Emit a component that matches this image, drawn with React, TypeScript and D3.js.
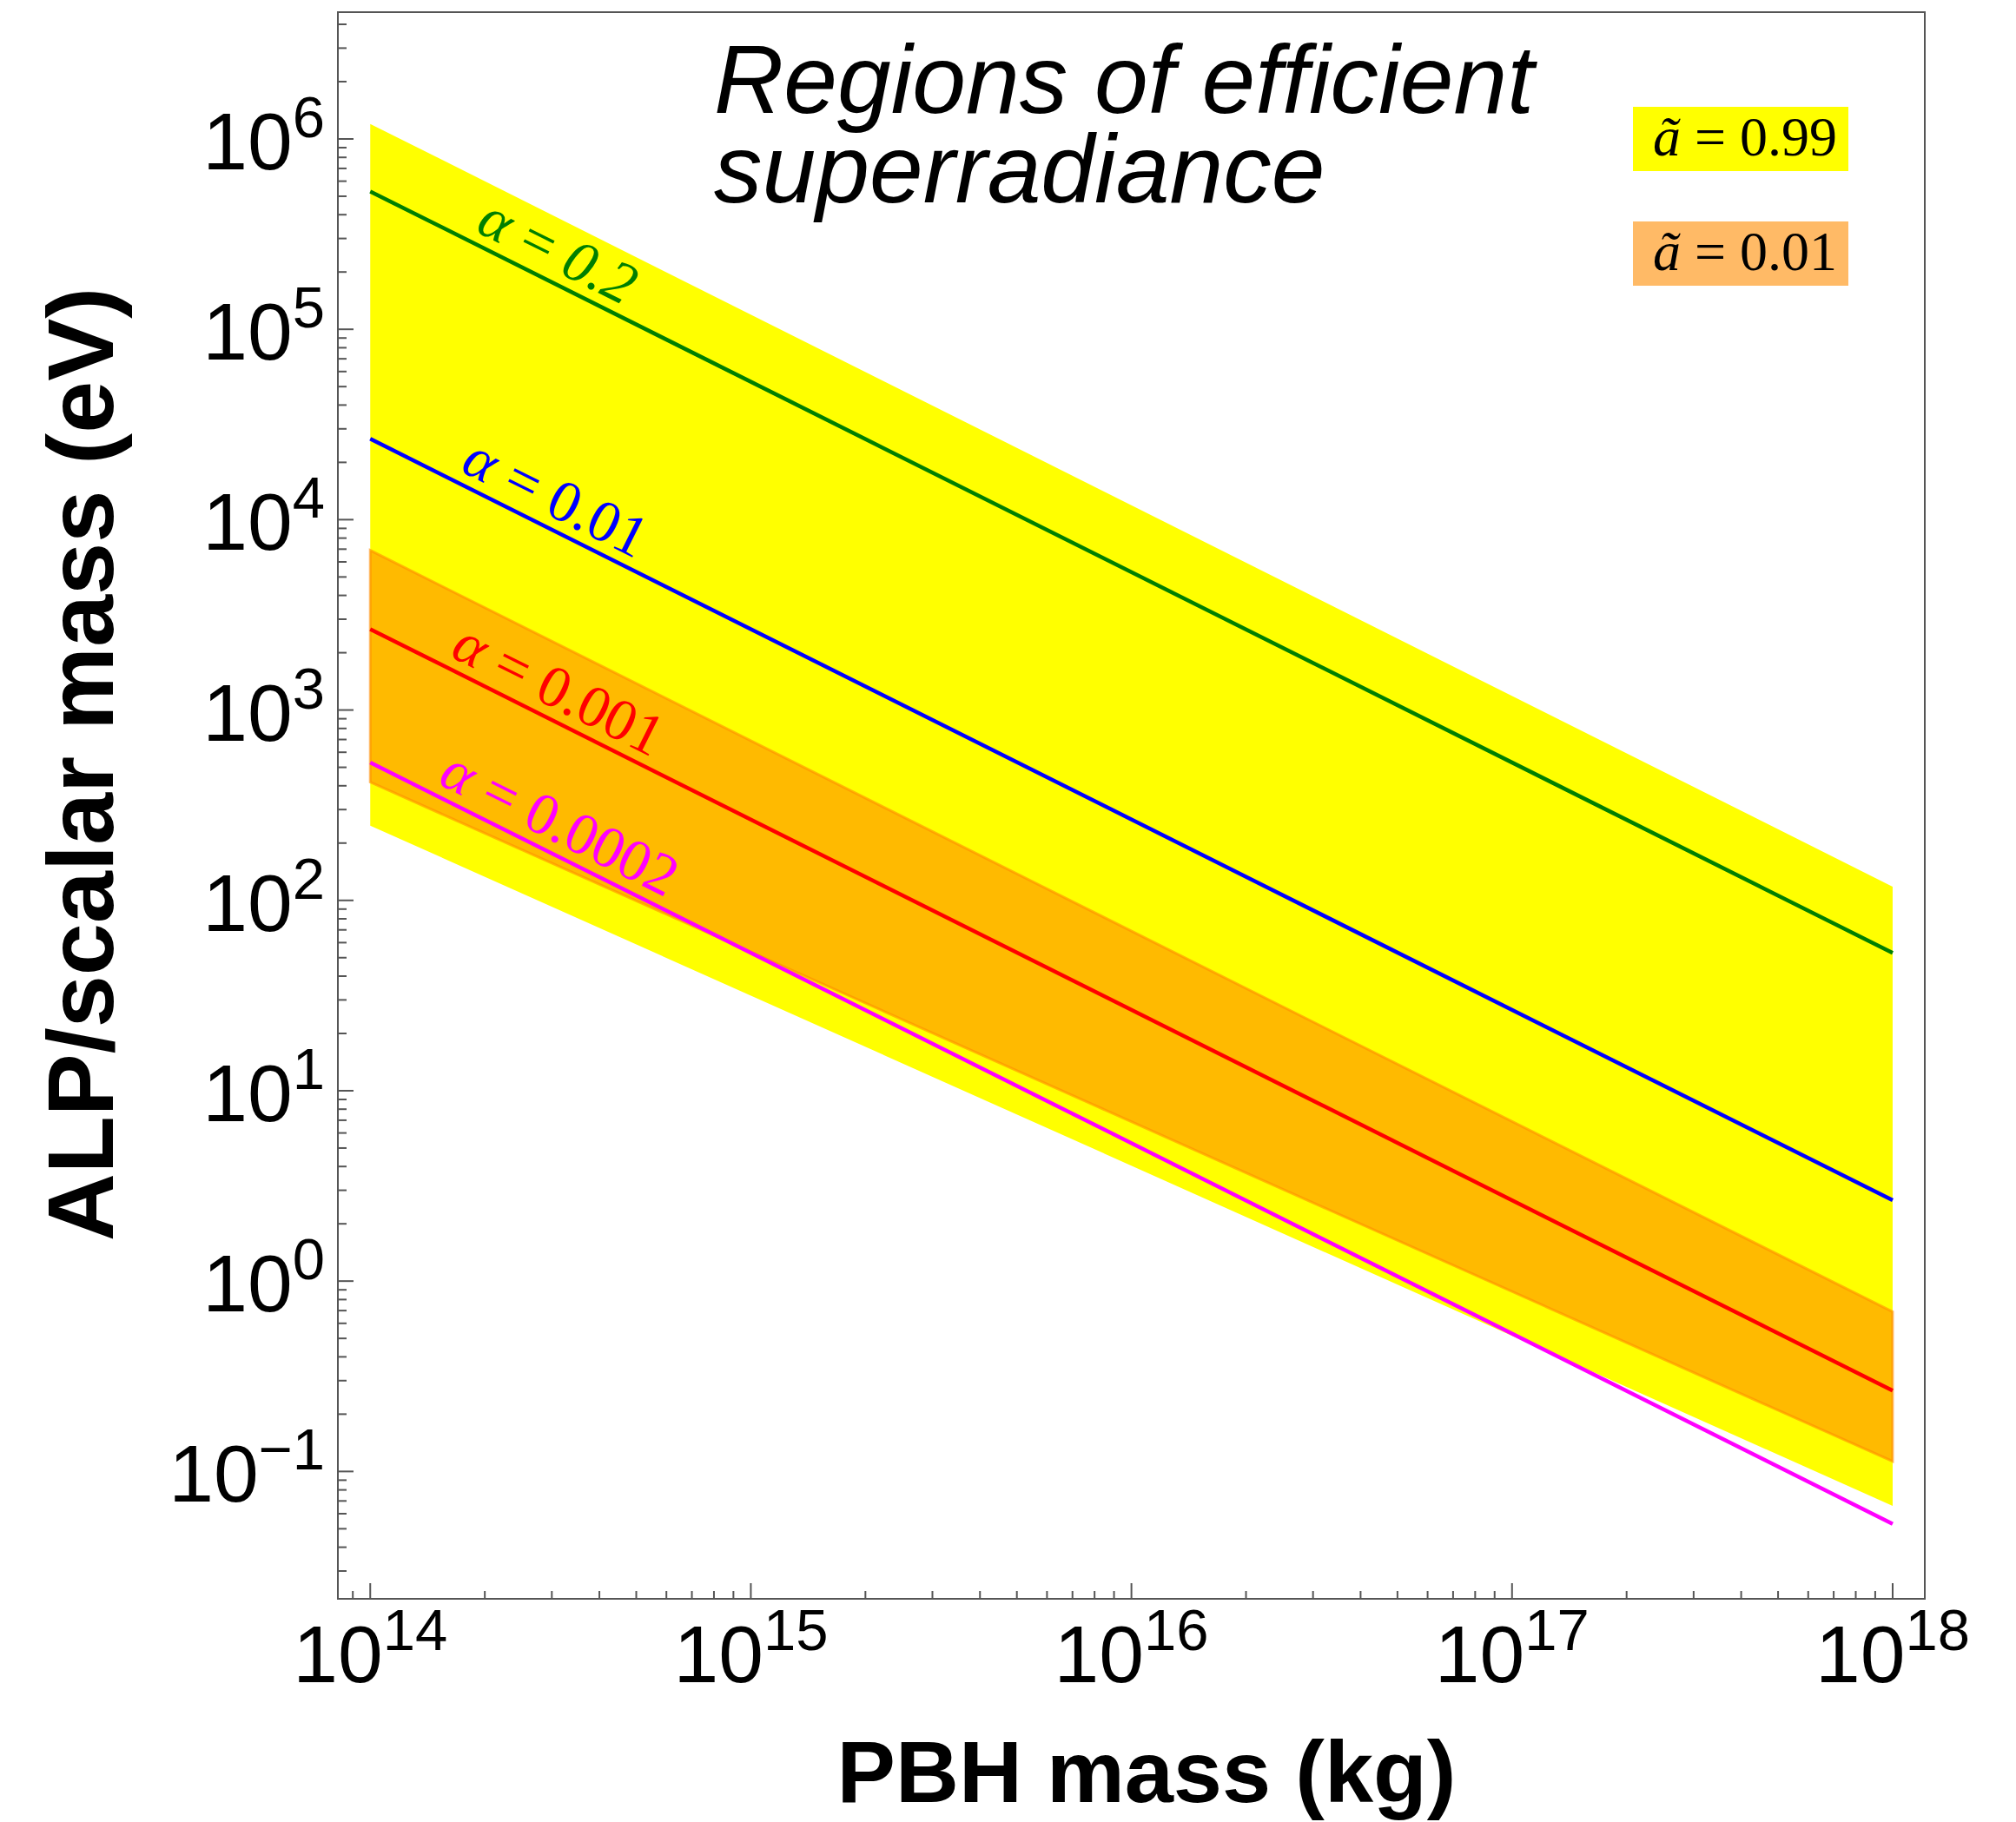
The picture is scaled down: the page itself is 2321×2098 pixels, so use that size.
import React from "react";
import * as d3 from "d3";

// PBH mass (kg) at the two ends of every curve / band
const massEnds = [1e14, 1e18];

// alpha = const lines (ALP mass in eV at 1e14 kg and 1e18 kg)
const alphaNames = ["0.2", "0.01", "0.001", "0.0002"];
const alphaStart = [5.3e5, 2.66e4, 2.66e3, 5.3e2];
const alphaEnd = [53, 2.66, 0.266, 0.053];
const alphaColors = ["#007f00", "#0000ff", "#ff0000", "#ff00ff"];
const alphaLabelMass = [1.82e14, 1.66e14, 1.56e14, 1.45e14];

// superradiance regions, spin 0.99 and spin 0.01
const spin99Upper = [1.2e6, 118];
const spin99Lower = [247, 0.066];
const spin01Upper = [6.9e3, 0.69];
const spin01Lower = [418, 0.113];

const legendLabels = ["0.99", "0.01"];

const xMajor = [14, 15, 16, 17, 18];
const yMajor = [-1, 0, 1, 2, 3, 4, 5, 6];

const W = 2321;
const H = 2098;
const left = 389;
const right = 2216;
const top = 14;
const bottom = 1841;

const App = () => {
  const x = d3
    .scaleLog()
    .domain([10 ** 13.915, 10 ** 18.0845])
    .range([left, right]);
  const y = d3
    .scaleLog()
    .domain([10 ** -1.669, 10 ** 6.666])
    .range([bottom, top]);

  const line = d3
    .line<[number, number]>()
    .x((d) => x(d[0]))
    .y((d) => y(d[1]));

  const band = (upper: number[], lower: number[]) => {
    const pts: [number, number][] = [
      [massEnds[0], upper[0]],
      [massEnds[1], upper[1]],
      [massEnds[1], lower[1]],
      [massEnds[0], lower[0]],
    ];
    return line(pts) + "Z";
  };

  // minor ticks
  const xMinor: number[] = [];
  for (let e = 13; e <= 18; e++)
    for (let k = 2; k <= 9; k++) {
      const v = k * 10 ** e;
      if (v > x.domain()[0] && v < x.domain()[1]) xMinor.push(v);
    }
  const yMinor: number[] = [];
  for (let e = -2; e <= 6; e++)
    for (let k = 2; k <= 9; k++) {
      const v = k * 10 ** e;
      if (v > y.domain()[0] && v < y.domain()[1]) yMinor.push(v);
    }

  const sup = (e: number) => (e < 0 ? "\u2212" + Math.abs(e) : String(e));

  return (
    <svg width={W} height={H} style={{ display: "block", background: "white" }}>
      <style>{`body{margin:0}`}</style>

      {/* regions */}
      <path d={band(spin99Upper, spin99Lower)} fill="#ffff00" />
      <path
        d={band(spin01Upper, spin01Lower)}
        fill="rgb(255,140,0)"
        fillOpacity={0.6}
        stroke="rgb(255,140,0)"
        strokeOpacity={0.6}
        strokeWidth={3}
      />

      {/* alpha lines */}
      {alphaNames.map((n, i) => (
        <path
          key={n}
          d={line([
            [massEnds[0], alphaStart[i]],
            [massEnds[1], alphaEnd[i]],
          ]) as string}
          fill="none"
          stroke={alphaColors[i]}
          strokeWidth={4.5}
        />
      ))}

      {/* alpha labels */}
      {alphaNames.map((n, i) => {
        const ang =
          (Math.atan2(
            y(alphaEnd[i]) - y(alphaStart[i]),
            x(massEnds[1]) - x(massEnds[0])
          ) *
            180) /
          Math.PI;
        const t =
          (Math.log10(alphaLabelMass[i]) - 14) / (Math.log10(massEnds[1]) - 14);
        const v =
          10 **
          (Math.log10(alphaStart[i]) +
            t * (Math.log10(alphaEnd[i]) - Math.log10(alphaStart[i])));
        return (
          <text
            key={n}
            transform={`translate(${x(alphaLabelMass[i])},${y(v)}) rotate(${ang}) translate(0,-13)`}
            fontFamily="'Liberation Serif', 'Times New Roman', serif"
            fontSize={68}
            fill={alphaColors[i]}
          >
            <tspan fontStyle="italic">α</tspan>
            <tspan> = </tspan>
            <tspan fontStyle={i === 0 ? "italic" : "normal"}>{n}</tspan>
          </text>
        );
      })}

      {/* frame */}
      <rect
        x={left}
        y={top}
        width={right - left}
        height={bottom - top}
        fill="none"
        stroke="#555"
        strokeWidth={2}
      />

      {/* x ticks */}
      {xMajor.map((e) => (
        <line
          key={"xM" + e}
          x1={x(10 ** e)}
          x2={x(10 ** e)}
          y1={bottom}
          y2={bottom - 18}
          stroke="#555"
          strokeWidth={2}
        />
      ))}
      {xMinor.map((v) => (
        <line
          key={"xm" + v}
          x1={x(v)}
          x2={x(v)}
          y1={bottom}
          y2={bottom - 9}
          stroke="#555"
          strokeWidth={2}
        />
      ))}
      {xMajor.map((e) => (
        <text
          key={"xl" + e}
          x={x(10 ** e)}
          y={1937}
          textAnchor="middle"
          fontFamily="'Liberation Sans', Arial, sans-serif"
          fontSize={93}
        >
          10
          <tspan dy={-37} fontSize={67}>
            {sup(e)}
          </tspan>
        </text>
      ))}

      {/* y ticks */}
      {yMajor.map((e) => (
        <line
          key={"yM" + e}
          x1={left}
          x2={left + 18}
          y1={y(10 ** e)}
          y2={y(10 ** e)}
          stroke="#555"
          strokeWidth={2}
        />
      ))}
      {yMinor.map((v) => (
        <line
          key={"ym" + v}
          x1={left}
          x2={left + 10}
          y1={y(v)}
          y2={y(v)}
          stroke="#555"
          strokeWidth={2}
        />
      ))}
      {yMajor.map((e) => (
        <text
          key={"yl" + e}
          x={374}
          y={y(10 ** e) + 35}
          textAnchor="end"
          fontFamily="'Liberation Sans', Arial, sans-serif"
          fontSize={93}
        >
          10
          <tspan dy={-37} fontSize={67}>
            {sup(e)}
          </tspan>
        </text>
      ))}

      {/* axis titles */}
      <text
        x={1320}
        y={2075}
        textAnchor="middle"
        fontFamily="'Liberation Sans', Arial, sans-serif"
        fontWeight="bold"
        fontSize={101}
      >
        PBH mass (kg)
      </text>
      <text
        transform="translate(130,880) rotate(-90)"
        textAnchor="middle"
        fontFamily="'Liberation Sans', Arial, sans-serif"
        fontWeight="bold"
        fontSize={108}
      >
        ALP/scalar mass (eV)
      </text>

      {/* title */}
      <text
        fontFamily="'Liberation Sans', Arial, sans-serif"
        fontStyle="italic"
        fontSize={111}
      >
        <tspan x={822} y={130}>
          Regions of efficient
        </tspan>
        <tspan x={822} y={233}>
          superradiance
        </tspan>
      </text>

      {/* legend */}
      {legendLabels.map((l, i) => (
        <g key={l} transform={`translate(1880,${123 + i * 132})`}>
          <rect
            width={248}
            height={74}
            fill={i === 0 ? "#ffff00" : "rgb(255,140,0)"}
            fillOpacity={i === 0 ? 1 : 0.6}
          />
          <text
            x={23}
            y={56}
            fontFamily="'Liberation Serif', 'Times New Roman', serif"
            fontSize={64}
          >
            <tspan fontStyle="italic">ã</tspan>
            <tspan> = {l}</tspan>
          </text>
        </g>
      ))}
    </svg>
  );
};

export default App;
